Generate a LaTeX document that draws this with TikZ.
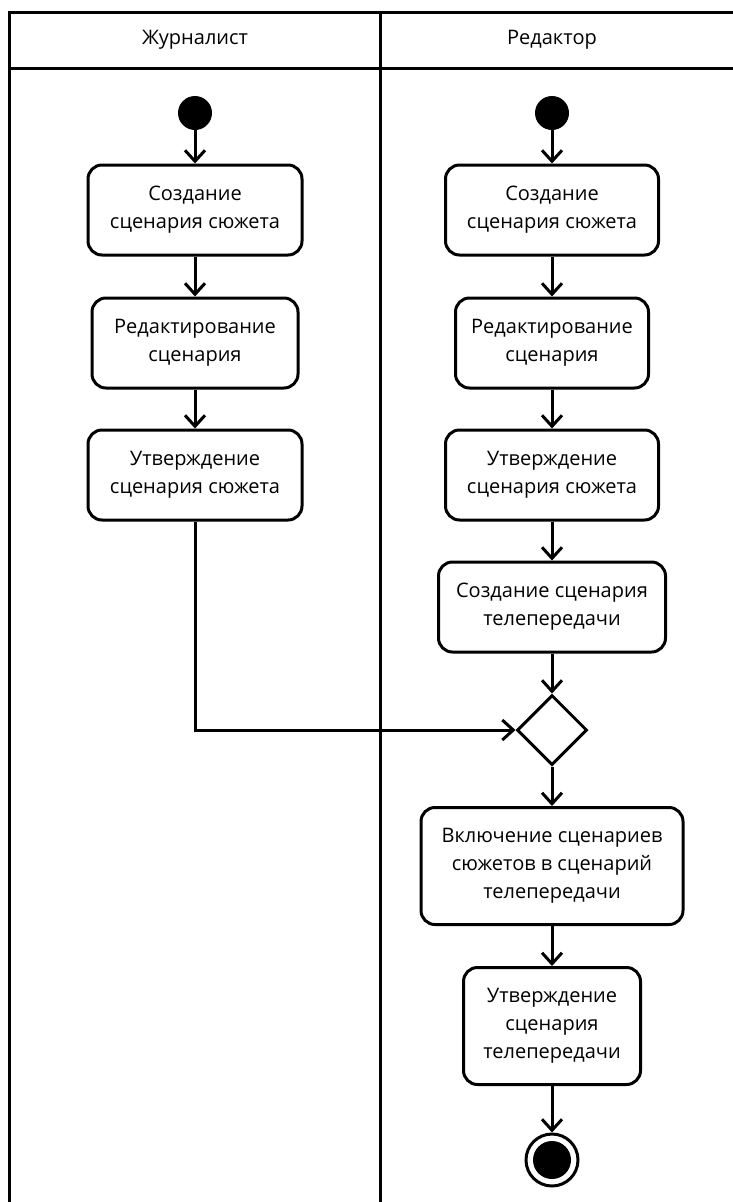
\documentclass[tikz,border=0pt]{standalone}
\usepackage{fontspec}
\setmainfont{Open Sans}
\usetikzlibrary{positioning,arrows.meta,shapes.geometric}
\tikzset{
	act/.style={draw,line width=3pt,rounded corners=14pt,align=center,
		font=\fontsize{20}{28}\selectfont,minimum height=90pt,inner sep=2pt},
	flow/.style={-{Straight Barb[length=11pt,width=20pt]},line width=3pt},
	startnode/.style={circle,fill=black,minimum size=34pt,inner sep=0pt},
	endnode/.style={circle,draw,line width=3pt,minimum size=52pt,inner sep=0pt},
	merge/.style={diamond,draw,line width=3pt,minimum width=70pt,minimum height=70pt,inner sep=0pt},
	lane/.style={line width=3pt},
	lanetitle/.style={font=\fontsize{20}{22}\selectfont}
}
\begin{document}
\begin{tikzpicture}[x=1pt,y=-1pt]
	\useasboundingbox (0,0) rectangle (733,1202);
	
	% swimlanes
	\draw[lane] (9,1202) -- (9,12) -- (733,12);
	\draw[lane] (9,68) -- (733,68);
	\draw[lane] (380,12) -- (380,1202);
	\node[lanetitle] (jtitle) at (195,40) {Журналист};
	\node[lanetitle] (rtitle) at (552,40) {Редактор};
	
	% journalist
	\node[startnode] (js) at (195,113) {};
	\node[act,minimum width=214pt] (j1) at (195,210) {Создание\\сценария сюжета};
	\node[act,minimum width=206pt] (j2) at (195,343) {Редактирование\\сценария};
	\node[act,minimum width=214pt] (j3) at (195,475) {Утверждение\\сценария сюжета};
	
	% editor
	\node[startnode] (rs) at (552,113) {};
	\node[act,minimum width=213pt] (r1) at (552,210) {Создание\\сценария сюжета};
	\node[act,minimum width=193pt] (r2) at (552,343) {Редактирование\\сценария};
	\node[act,minimum width=213pt] (r3) at (552,475) {Утверждение\\сценария сюжета};
	\node[act,minimum width=227pt] (r4) at (552,607) {Создание сценария\\телепередачи};
	\node[merge] (m) at (552,730) {};
	\node[act,minimum width=262pt,minimum height=117pt] (r5) at (552,866)
		{Включение сценариев\\сюжетов в сценарий\\телепередачи};
	\node[act,minimum width=177pt,minimum height=117pt] (r6) at (552,1026)
		{Утверждение\\сценария\\телепередачи};
	\node[endnode] (re) at (552,1160) {};
	\fill (re) circle (19pt);
	
	% flows
	\draw[flow] (js) -- (j1);
	\draw[flow] (j1) -- (j2);
	\draw[flow] (j2) -- (j3);
	\draw[flow] (j3.south) |- (m.west);
	\draw[flow] (rs) -- (r1);
	\draw[flow] (r1) -- (r2);
	\draw[flow] (r2) -- (r3);
	\draw[flow] (r3) -- (r4);
	\draw[flow] (r4) -- (m);
	\draw[flow] (m) -- (r5);
	\draw[flow] (r5) -- (r6);
	\draw[flow] (r6) -- (re);
\end{tikzpicture}
\end{document}
